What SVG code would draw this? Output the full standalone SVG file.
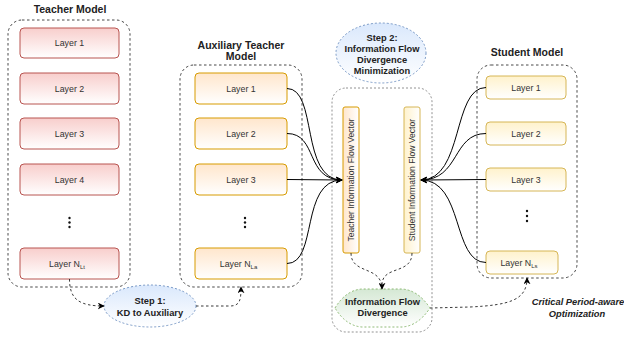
<svg xmlns="http://www.w3.org/2000/svg" width="624" height="337" viewBox="0 0 624 337">
<defs>
<linearGradient id="gRed" x1="0" y1="0" x2="0" y2="1"><stop offset="0" stop-color="#f8cecc"/><stop offset="1" stop-color="#ffffff"/></linearGradient>
<linearGradient id="gOrange" x1="0" y1="0" x2="0" y2="1"><stop offset="0" stop-color="#ffe6cc"/><stop offset="1" stop-color="#ffffff"/></linearGradient>
<linearGradient id="gOrangeH" x1="0" y1="0" x2="1" y2="0"><stop offset="0" stop-color="#ffe6cc"/><stop offset="1" stop-color="#ffffff"/></linearGradient>
<linearGradient id="gYellow" x1="0" y1="0" x2="0" y2="1"><stop offset="0" stop-color="#fff2cc"/><stop offset="1" stop-color="#ffffff"/></linearGradient>
<linearGradient id="gYellowH" x1="0" y1="0" x2="1" y2="0"><stop offset="0" stop-color="#fff2cc"/><stop offset="1" stop-color="#ffffff"/></linearGradient>
<linearGradient id="gBlue" x1="0" y1="0" x2="0" y2="1"><stop offset="0" stop-color="#dae8fc"/><stop offset="1" stop-color="#ffffff"/></linearGradient>
<linearGradient id="gGreen" x1="0" y1="0" x2="0" y2="1"><stop offset="0" stop-color="#d5e8d4"/><stop offset="1" stop-color="#ffffff"/></linearGradient>
<marker id="arr" viewBox="0 0 10 10" refX="9" refY="5" markerWidth="7" markerHeight="7" markerUnits="userSpaceOnUse" orient="auto"><path d="M0,0 L10,5 L0,10 L3,5 Z" fill="#000"/></marker>
<style>
text{font-family:"Liberation Sans",Arial,sans-serif;fill:#222}
.title{font-size:10.5px;font-weight:bold;text-anchor:middle}
.lbl{font-size:8.8px;text-anchor:middle;fill:#333}
.vlbl{font-size:8.6px;text-anchor:middle;fill:#333}
.sub{font-size:6px}
.bold{font-size:9.3px;font-weight:bold;text-anchor:middle}
.ital{font-size:9.3px;font-weight:bold;font-style:italic;text-anchor:middle}
.cont{fill:none;stroke:#333;stroke-width:0.9;stroke-dasharray:2.5 2.5}
.cont2{fill:none;stroke:#777;stroke-width:0.8;stroke-dasharray:2 2}
.red{fill:url(#gRed);stroke:#b85450;stroke-width:1}
.orange{fill:url(#gOrange);stroke:#d79b00;stroke-width:1}
.yellow{fill:url(#gYellow);stroke:#d6b656;stroke-width:1}
.dots{fill:#111}
.conn{fill:none;stroke:#000;stroke-width:1}
.dconn{fill:none;stroke:#222;stroke-width:0.9;stroke-dasharray:2.5 2.5}
</style>
</defs>
<rect width="624" height="337" fill="#ffffff"/>

<!-- Teacher model -->
<g id="teacher-model">
<text class="title" x="70" y="13">Teacher Model</text>
<rect class="cont" x="8" y="20" width="122" height="267" rx="14"/>
</g>
<g id="t-layer1"><rect class="red" x="20" y="28" width="99" height="30" rx="4"/><text class="lbl" x="69.5" y="46">Layer 1</text></g>
<g id="t-layer2"><rect class="red" x="20" y="73" width="99" height="31" rx="4"/><text class="lbl" x="69.5" y="91.5">Layer 2</text></g>
<g id="t-layer3"><rect class="red" x="20" y="118" width="99" height="31" rx="4"/><text class="lbl" x="69.5" y="136.5">Layer 3</text></g>
<g id="t-layer4"><rect class="red" x="20" y="164" width="99" height="31" rx="4"/><text class="lbl" x="69.5" y="182.5">Layer 4</text></g>
<g id="t-dots"><circle class="dots" cx="69.5" cy="218" r="1.2"/><circle class="dots" cx="69.5" cy="222.5" r="1.2"/><circle class="dots" cx="69.5" cy="227" r="1.2"/></g>
<g id="t-layerN"><rect class="red" x="20" y="248" width="99" height="31" rx="4"/><text class="lbl" x="67" y="266.5">Layer N<tspan class="sub" dy="2">Lt</tspan></text></g>

<!-- Auxiliary teacher model -->
<g id="aux-model">
<text class="title" x="241" y="49">Auxiliary Teacher</text>
<text class="title" x="241" y="60">Model</text>
<rect class="cont" x="180" y="65" width="122" height="222" rx="14"/>
</g>
<g id="a-layer1"><rect class="orange" x="195" y="73" width="92" height="31" rx="4"/><text class="lbl" x="241" y="91.5">Layer 1</text></g>
<g id="a-layer2"><rect class="orange" x="195" y="118" width="92" height="31" rx="4"/><text class="lbl" x="241" y="136.5">Layer 2</text></g>
<g id="a-layer3"><rect class="orange" x="195" y="164" width="92" height="31" rx="4"/><text class="lbl" x="241" y="182.5">Layer 3</text></g>
<g id="a-dots"><circle class="dots" cx="245" cy="218" r="1.2"/><circle class="dots" cx="245" cy="222.5" r="1.2"/><circle class="dots" cx="245" cy="227" r="1.2"/></g>
<g id="a-layerN"><rect class="orange" x="195" y="248" width="92" height="31" rx="4"/><text class="lbl" x="238.5" y="266.5">Layer N<tspan class="sub" dy="2">La</tspan></text></g>

<!-- Step 1 -->
<g id="step1"><ellipse cx="150" cy="306" rx="46" ry="21" fill="url(#gBlue)" stroke="#6c8ebf" stroke-width="0.9" stroke-dasharray="2 2"/>
<text class="bold" x="150" y="304">Step 1:</text><text class="bold" x="150" y="315.5">KD to Auxiliary</text></g>

<!-- Step 2 -->
<g id="step2"><ellipse cx="381" cy="53" rx="45" ry="30" fill="url(#gBlue)" stroke="#6c8ebf" stroke-width="0.9" stroke-dasharray="2 2"/>
<text class="bold" x="382" y="41">Step 2:</text><text class="bold" x="382" y="52">Information Flow</text><text class="bold" x="382" y="63">Divergence</text><text class="bold" x="382" y="74">Minimization</text></g>

<!-- center container -->
<g id="center-box"><rect class="cont2" x="332" y="88" width="100" height="244" rx="14"/></g>
<g id="teacher-vector"><rect x="343" y="107" width="16" height="146" rx="2" fill="url(#gOrangeH)" stroke="#d79b00" stroke-width="1"/>
<text class="vlbl" transform="translate(354,180) rotate(-90)" x="0" y="0">Teacher Information Flow Vector</text></g>
<g id="student-vector"><rect x="404" y="107" width="16" height="146" rx="2" fill="url(#gYellowH)" stroke="#d6b656" stroke-width="1"/>
<text class="vlbl" transform="translate(415,180) rotate(-90)" x="0" y="0">Student Information Flow Vector</text></g>
<g id="divergence"><path d="M335,308 Q346,290 362,289 L402,289 Q418,290 430,308 Q418,326 402,327 L362,327 Q346,326 335,308 Z" fill="url(#gGreen)" stroke="#82b366" stroke-width="0.9" stroke-dasharray="2 2"/>
<text class="bold" x="382.5" y="305">Information Flow</text><text class="bold" x="382.5" y="316">Divergence</text></g>

<!-- Student model -->
<g id="student-model">
<text class="title" x="527" y="56">Student Model</text>
<rect class="cont" x="477" y="65" width="100" height="213" rx="14"/>
</g>
<g id="s-layer1"><rect class="yellow" x="486" y="76" width="80" height="23" rx="4"/><text class="lbl" x="526" y="90.5">Layer 1</text></g>
<g id="s-layer2"><rect class="yellow" x="486" y="122" width="80" height="23" rx="4"/><text class="lbl" x="526" y="136.5">Layer 2</text></g>
<g id="s-layer3"><rect class="yellow" x="486" y="168" width="80" height="23" rx="4"/><text class="lbl" x="526" y="182.5">Layer 3</text></g>
<g id="s-dots"><circle class="dots" cx="527" cy="211" r="1.2"/><circle class="dots" cx="527" cy="216" r="1.2"/><circle class="dots" cx="527" cy="221" r="1.2"/></g>
<g id="s-layerN"><rect class="yellow" x="486" y="251" width="72" height="23" rx="4"/><text class="lbl" x="519" y="265.5">Layer N<tspan class="sub" dy="2">Ls</tspan></text></g>

<g id="cpa-label"><text class="ital" x="578" y="305">Critical Period-aware</text><text class="ital" x="577" y="316.5">Optimization</text></g>

<!-- connectors -->
<g id="connectors">
<path class="conn" marker-end="url(#arr)" d="M287,88.5 C318,88.5 300,180 342,180"/>
<path class="conn" marker-end="url(#arr)" d="M287,133.5 C318,133.5 305,180 342,180"/>
<path class="conn" marker-end="url(#arr)" d="M287,179.5 L342,180"/>
<path class="conn" marker-end="url(#arr)" d="M287,263.5 C318,263.5 300,180 342,180"/>
<path class="conn" marker-end="url(#arr)" d="M486,87.5 C452,87.5 464,180 421,180"/>
<path class="conn" marker-end="url(#arr)" d="M486,133.5 C452,133.5 460,180 421,180"/>
<path class="conn" marker-end="url(#arr)" d="M486,179.5 L421,180"/>
<path class="conn" marker-end="url(#arr)" d="M486,262.5 C452,262.5 464,180 421,180"/>
<path class="dconn" marker-end="url(#arr)" d="M69.5,279 C69.5,300 80,306 104,306"/>
<path class="dconn" marker-end="url(#arr)" d="M196,306 L230,306 C240,306 241,300 241,287"/>
<path class="dconn" marker-end="url(#arr)" d="M351,253 C351,275 382,265 382,289"/>
<path class="dconn" d="M412,253 C412,275 382,265 382,285"/>
<path class="dconn" marker-end="url(#arr)" d="M430,308 L470,307 C510,305 527,300 527,278"/>
</g>
</svg>
